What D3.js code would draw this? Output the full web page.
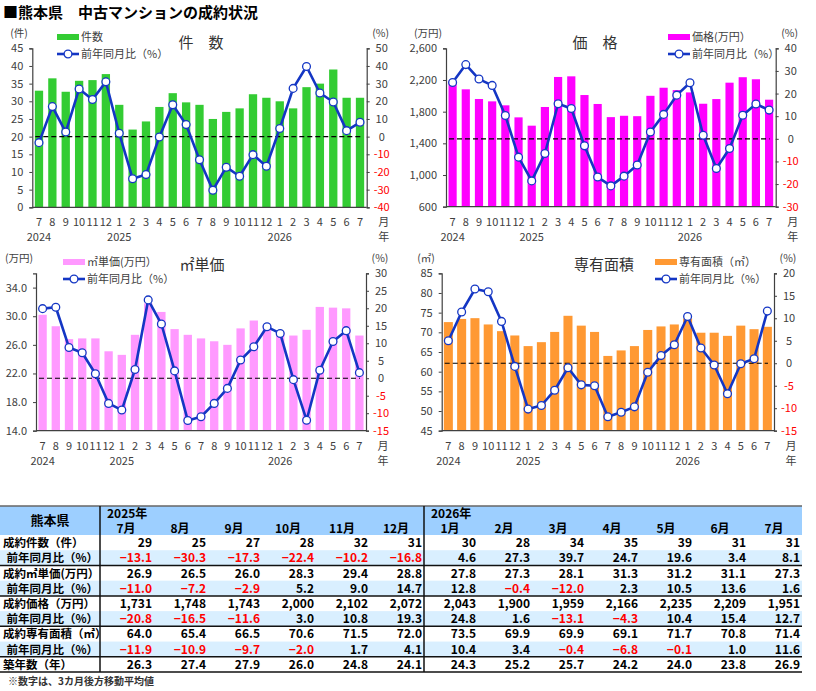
<!DOCTYPE html>
<html>
<head>
<meta charset="utf-8">
<script src="https://cdn.jsdelivr.net/npm/d3@7"></script>
<style>
	body { margin: 0; background: #fff; }
	svg { font-family: "Noto Sans CJK JP", "Noto Sans", sans-serif; }
</style>
</head>
<body>
<svg id="chart" width="816" height="691"></svg>
<script>
// months on the x axis, 2024/7 .. 2026/7
const months = ['7','8','9','10','11','12','1','2','3','4','5','6','7','8','9','10','11','12','1','2','3','4','5','6','7'];
const yearLabels = ['2024','','','','','','2025','','','','','','','','','','','','2026','','','','','',''];

// table columns (2025/7 .. 2026/7)
const tableMonths = ['7月','8月','9月','10月','11月','12月','1月','2月','3月','4月','5月','6月','7月'];
const countTable = [29, 25, 27, 28, 32, 31, 30, 28, 34, 35, 39, 31, 31];
const countYoyTable = [-13.1, -30.3, -17.3, -22.4, -10.2, -16.8, 4.6, 27.3, 39.7, 24.7, 19.6, 3.4, 8.1];
const unitTable = [26.9, 26.5, 26.0, 28.3, 29.4, 28.8, 27.8, 27.3, 28.1, 31.3, 31.2, 31.1, 27.3];
const unitYoyTable = [-11.0, -7.2, -2.9, 5.2, 9.0, 14.7, 12.8, -0.4, -12.0, 2.3, 10.5, 13.6, 1.6];
const priceTable = [1731, 1748, 1743, 2000, 2102, 2072, 2043, 1900, 1959, 2166, 2235, 2209, 1951];
const priceYoyTable = [-20.8, -16.5, -11.6, 3.0, 10.8, 19.3, 24.8, 1.6, -13.1, -4.3, 10.4, 15.4, 12.7];
const areaTable = [64.0, 65.4, 66.5, 70.6, 71.5, 72.0, 73.5, 69.9, 69.9, 69.1, 71.7, 70.8, 71.4];
const areaYoyTable = [-11.9, -10.9, -9.7, -2.0, 1.7, 4.1, 10.4, 3.4, -0.4, -6.8, -0.1, 1.0, 11.6];
const ageTable = [26.3, 27.4, 27.9, 26.0, 24.8, 24.1, 24.3, 25.2, 25.7, 24.2, 24.0, 23.8, 26.9];

// first 12 months (2024/7 .. 2025/6)
const countPrev = [33.0, 36.5, 32.7, 35.8, 36.0, 37.7, 29.0, 22.0, 24.3, 28.4, 32.3, 29.7];
const countYoyPrev = [-3.4, 17.0, 2.6, 27.0, 21.0, 31.0, 1.9, -23.8, -21.5, -0.2, 18.0, 6.8];
const pricePrev = [2190, 2082, 1960, 1930, 1880, 1728, 1623, 1859, 2238, 2246, 2010, 1897];
const priceYoyPrev = [24.9, 32.8, 26.4, 23.6, 10.3, -8.1, -18.6, -6.5, 15.5, 13.4, -3.1, -16.9];
const unitPrev = [30.2, 28.6, 26.8, 26.9, 26.9, 25.1, 24.6, 27.4, 31.8, 30.6, 28.2, 27.4];
const unitYoyPrev = [19.9, 20.3, 8.8, 7.3, 1.3, -7.2, -9.1, 2.5, 22.4, 15.5, 2.1, -12.1];
const areaPrev = [72.6, 73.4, 73.6, 72.0, 70.3, 69.2, 66.5, 67.5, 70.1, 74.2, 71.7, 70.1];
const areaYoyPrev = [5.0, 11.4, 16.5, 15.9, 9.3, -0.7, -10.2, -9.4, -6.0, -1.0, -4.8, -5.0];

const lineColor = '#1436c4';
const tickColor = '#404040';

let svg = d3.select('#chart');

svg.append('text')
	.attr('x', 3)
	.attr('y', 18)
	.style('font-size', '15px')
	.style('font-weight', 'bold')
	.text('■熊本県　中古マンションの成約状況')
;

function drawPanel(p) {
	let g = svg.append('g');

	let x = d3.scaleBand()
		.domain(d3.range(months.length))
		.range([p.left, p.right])
		.paddingInner(p.pad)
		.paddingOuter(p.pad / 2)
	;
	let yL = d3.scaleLinear().domain(p.leftDomain).range([p.bottom, p.top]);
	let yR = d3.scaleLinear().domain(p.rightDomain).range([p.bottom, p.top]);

	// bars
	g.selectAll('rect.bar')
		.data(p.bars)
		.enter()
		.append('rect')
		.attr('class', 'bar')
		.attr('x', (d, i) => x(i))
		.attr('y', d => yL(d))
		.attr('width', x.bandwidth())
		.attr('height', d => p.bottom - yL(d))
		.style('fill', p.color)
	;

	// zero line of the right axis
	g.append('line')
		.attr('x1', p.left + 3)
		.attr('x2', p.right - 6)
		.attr('y1', yR(0))
		.attr('y2', yR(0))
		.style('stroke', '#000')
		.style('stroke-width', 1.2)
		.style('stroke-dasharray', '5,3')
	;

	// left axis
	let axL = g.append('g')
		.attr('transform', 'translate(' + p.left + ',0)')
		.call(d3.axisLeft(yL).tickValues(p.leftTicks).tickSize(3).tickPadding(6).tickFormat(p.leftFormat))
	;
	// right axis
	let axR = g.append('g')
		.attr('transform', 'translate(' + p.right + ',0)')
		.call(d3.axisRight(yR).tickValues(p.rightTicks).tickSize(3).tickPadding(5).tickFormat(d => String(d)))
	;
	[axL, axR].forEach(ax => {
		ax.select('.domain').style('stroke', tickColor).style('stroke-width', 1.2);
		ax.selectAll('.tick line').style('stroke', tickColor);
		ax.selectAll('.tick text')
			.style('font-size', '11px')
			.style('font-family', '"Noto Sans CJK JP", sans-serif')
		;
	});
	axL.selectAll('.tick text').style('fill', tickColor);
	axR.selectAll('.tick text')
		.attr('text-anchor', 'middle')
		.attr('x', 15)
		.style('fill', d => d < 0 ? '#ff0000' : tickColor)
	;

	// bottom axis line
	g.append('line')
		.attr('x1', p.left)
		.attr('x2', p.right)
		.attr('y1', p.bottom)
		.attr('y2', p.bottom)
		.style('stroke', tickColor)
		.style('stroke-width', 1.2)
	;

	// month / year labels
	g.selectAll('text.month')
		.data(months)
		.enter()
		.append('text')
		.attr('class', 'month')
		.attr('x', (d, i) => x(i) + x.bandwidth() / 2)
		.attr('y', p.bottom + 19)
		.attr('text-anchor', 'middle')
		.style('font-size', '11px')
		.style('fill', tickColor)
		.text(d => d)
	;
	g.selectAll('text.year')
		.data(yearLabels.map((d, i) => ({label: d, i: i})).filter(o => o.label !== ''))
		.enter()
		.append('text')
		.attr('class', 'year')
		.attr('x', d => x(d.i) + x.bandwidth() / 2)
		.attr('y', p.bottom + 34)
		.attr('text-anchor', 'middle')
		.style('font-size', '11px')
		.style('fill', tickColor)
		.text(d => d.label)
	;
	g.append('text')
		.attr('x', p.right + 17)
		.attr('y', p.bottom + 19)
		.attr('text-anchor', 'middle')
		.style('font-size', '11px')
		.style('fill', tickColor)
		.text('月')
	;
	g.append('text')
		.attr('x', p.right + 17)
		.attr('y', p.bottom + 34)
		.attr('text-anchor', 'middle')
		.style('font-size', '11px')
		.style('fill', tickColor)
		.text('年')
	;

	// YoY line
	let line = d3.line()
		.x((d, i) => x(i) + x.bandwidth() / 2)
		.y(d => yR(d))
	;
	g.append('path')
		.datum(p.yoy)
		.attr('d', line)
		.style('fill', 'none')
		.style('stroke', lineColor)
		.style('stroke-width', 2.6)
		.style('stroke-linejoin', 'round')
	;
	g.selectAll('circle.pt')
		.data(p.yoy)
		.enter()
		.append('circle')
		.attr('class', 'pt')
		.attr('cx', (d, i) => x(i) + x.bandwidth() / 2)
		.attr('cy', d => yR(d))
		.attr('r', 3.9)
		.style('fill', '#fff')
		.style('stroke', lineColor)
		.style('stroke-width', 1.3)
	;

	// units and title
	g.append('text')
		.attr('x', p.unitX)
		.attr('y', p.top - 11)
		.attr('text-anchor', 'middle')
		.style('font-size', '10.5px')
		.style('fill', tickColor)
		.text(p.unit)
	;
	g.append('text')
		.attr('x', p.right + 14)
		.attr('y', p.top - 11)
		.attr('text-anchor', 'middle')
		.style('font-size', '10.5px')
		.style('fill', tickColor)
		.text('(%)')
	;
	g.append('text')
		.attr('x', p.titleX)
		.attr('y', p.titleY)
		.attr('text-anchor', 'middle')
		.style('font-size', '15px')
		.style('fill', '#333')
		.text(p.title)
	;

	// legend
	let lg = g.append('g').attr('transform', 'translate(' + p.legendX + ',' + p.legendY + ')');
	lg.append('rect')
		.attr('x', 0)
		.attr('y', -3)
		.attr('width', 22)
		.attr('height', 6)
		.style('fill', p.color)
	;
	lg.append('text')
		.attr('x', 24)
		.attr('y', 4)
		.style('font-size', '11px')
		.style('fill', tickColor)
		.text(p.legendName)
	;
	lg.append('line')
		.attr('x1', 0)
		.attr('x2', 22)
		.attr('y1', 17)
		.attr('y2', 17)
		.style('stroke', lineColor)
		.style('stroke-width', 2.6)
	;
	lg.append('circle')
		.attr('cx', 11)
		.attr('cy', 17)
		.attr('r', 3.9)
		.style('fill', '#fff')
		.style('stroke', lineColor)
		.style('stroke-width', 1.3)
	;
	lg.append('text')
		.attr('x', 24)
		.attr('y', 21)
		.style('font-size', '11px')
		.style('fill', tickColor)
		.text('前年同月比（%）')
	;
}

drawPanel({
	left: 32.3, right: 366.7, top: 48.3, bottom: 207.3, pad: 0.38,
	bars: countPrev.concat(countTable), yoy: countYoyPrev.concat(countYoyTable),
	color: '#33cc33',
	leftDomain: [0, 45], leftTicks: d3.range(0, 46, 5), leftFormat: d3.format('d'),
	rightDomain: [-40, 50], rightTicks: d3.range(-40, 51, 10),
	unit: '(件)', unitX: 19, title: '件　数', titleX: 201, titleY: 48,
	legendName: '件数', legendX: 57, legendY: 37
});

drawPanel({
	left: 446, right: 775.7, top: 48.3, bottom: 206.7, pad: 0.38,
	bars: pricePrev.concat(priceTable), yoy: priceYoyPrev.concat(priceYoyTable),
	color: '#ff00ff',
	leftDomain: [600, 2600], leftTicks: d3.range(600, 2601, 400), leftFormat: d3.format(','),
	rightDomain: [-30, 40], rightTicks: d3.range(-30, 41, 10),
	unit: '(万円)', unitX: 428, title: '価　格', titleX: 595, titleY: 48,
	legendName: '価格(万円）', legendX: 668, legendY: 37
});

drawPanel({
	left: 36, right: 366, top: 273.3, bottom: 430.7, pad: 0.37,
	bars: unitPrev.concat(unitTable), yoy: unitYoyPrev.concat(unitYoyTable),
	color: '#ff99ff',
	leftDomain: [14, 36], leftTicks: d3.range(14, 35, 4), leftFormat: d3.format('.1f'),
	rightDomain: [-15, 30], rightTicks: d3.range(-15, 31, 5),
	unit: '(万円)', unitX: 19, title: '㎡単価', titleX: 202, titleY: 270,
	legendName: '㎡単価(万円）', legendX: 63, legendY: 262
});

drawPanel({
	left: 441.7, right: 774, top: 273.3, bottom: 430.7, pad: 0.32,
	bars: areaPrev.concat(areaTable), yoy: areaYoyPrev.concat(areaYoyTable),
	color: '#ff9933',
	leftDomain: [45, 85], leftTicks: d3.range(45, 86, 5), leftFormat: d3.format('d'),
	rightDomain: [-15, 20], rightTicks: d3.range(-15, 21, 5),
	unit: '(㎡)', unitX: 426, title: '専有面積', titleX: 604, titleY: 270,
	legendName: '専有面積（㎡）', legendX: 655, legendY: 262
});

// ---- table ----
const tableRows = [
	{label: '成約件数（件）', values: countTable, fmt: d3.format('d'), sub: false},
	{label: '前年同月比（%）', values: countYoyTable, fmt: d3.format('.1f'), sub: true},
	{label: '成約㎡単価(万円）', values: unitTable, fmt: d3.format('.1f'), sub: false},
	{label: '前年同月比（%）', values: unitYoyTable, fmt: d3.format('.1f'), sub: true},
	{label: '成約価格（万円）', values: priceTable, fmt: d3.format(','), sub: false},
	{label: '前年同月比（%）', values: priceYoyTable, fmt: d3.format('.1f'), sub: true},
	{label: '成約専有面積（㎡）', values: areaTable, fmt: d3.format('.1f'), sub: false},
	{label: '前年同月比（%）', values: areaYoyTable, fmt: d3.format('.1f'), sub: true},
	{label: '築年数（年）', values: ageTable, fmt: d3.format('.1f'), sub: false}
];

let tTop = 506, tHead = 535, rowH = (672 - 535) / 9;
let colX = d3.scaleBand().domain(d3.range(tableMonths.length)).range([100, 802]);
let tbl = svg.append('g').style('font-size', '12px').style('font-weight', 'bold');

tbl.append('rect')
	.attr('x', 0).attr('y', tTop)
	.attr('width', 802).attr('height', tHead - tTop)
	.style('fill', '#9dcfff')
;
tbl.selectAll('rect.row')
	.data(tableRows)
	.enter()
	.append('rect')
	.attr('class', 'row')
	.attr('x', 0)
	.attr('y', (d, i) => tHead + i * rowH)
	.attr('width', 802)
	.attr('height', rowH)
	.style('fill', d => d.sub ? '#d9efff' : '#fff')
;

tbl.append('text')
	.attr('x', 50).attr('y', 525)
	.attr('text-anchor', 'middle')
	.style('font-size', '13px')
	.text('熊本県')
;
tbl.append('text').attr('x', 107).attr('y', 518).text('2025年');
tbl.append('text').attr('x', 431).attr('y', 518).text('2026年');
tbl.selectAll('text.hm')
	.data(tableMonths)
	.enter()
	.append('text')
	.attr('class', 'hm')
	.attr('x', (d, i) => colX(i) + colX.bandwidth() / 2 - 1)
	.attr('y', 533)
	.attr('text-anchor', 'middle')
	.text(d => d)
;

tableRows.forEach((row, r) => {
	let yBase = tHead + r * rowH + rowH / 2 + 4.5;
	tbl.append('text')
		.attr('x', row.sub ? 98 : 3)
		.attr('y', yBase)
		.attr('text-anchor', row.sub ? 'end' : 'start')
		.style('font-size', '11.5px')
		.text(row.label)
	;
	tbl.selectAll('text.v' + r)
		.data(row.values)
		.enter()
		.append('text')
		.attr('class', 'v' + r)
		.attr('x', (d, i) => colX(i) + colX.bandwidth() - 2)
		.attr('y', yBase)
		.attr('text-anchor', 'end')
		.style('fill', d => d < 0 ? '#ff0000' : '#000')
		.text(d => row.fmt(d))
	;
});

// table rules
tbl.append('line')
	.attr('x1', 0).attr('x2', 802).attr('y1', tTop).attr('y2', tTop)
	.style('stroke', '#666').style('stroke-width', 1.5)
;
[2, 4, 6, 8, 9].forEach(k => {
	tbl.append('line')
		.attr('x1', 0).attr('x2', 802)
		.attr('y1', tHead + k * rowH).attr('y2', tHead + k * rowH)
		.style('stroke', '#111').style('stroke-width', 1.5)
	;
});
[100, colX(6)].forEach(xv => {
	tbl.append('line')
		.attr('x1', xv).attr('x2', xv)
		.attr('y1', tTop).attr('y2', tHead + 9 * rowH)
		.style('stroke', '#111').style('stroke-width', 1.5)
	;
});

svg.append('text')
	.attr('x', 8)
	.attr('y', 685)
	.style('font-size', '10px')
	.style('font-weight', 'bold')
	.style('fill', '#333')
	.text('※数字は、3カ月後方移動平均値')
;
</script>
</body>
</html>
